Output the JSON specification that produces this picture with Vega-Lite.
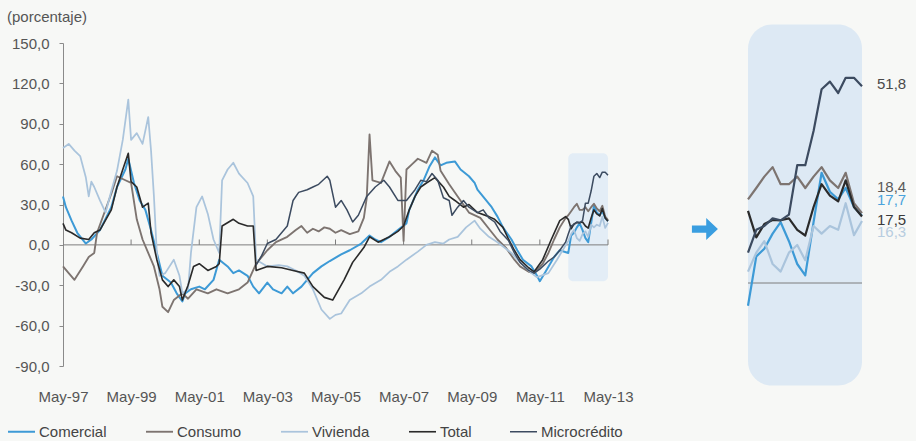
{
"$schema":"https://vega.github.io/schema/vega-lite/v6.json",
"width":853,"height":323,
"autosize":{"type":"none"},
"padding":{"left":63,"top":43,"right":0,"bottom":75},
"background":"#f7f8f6",
"config":{"view":{"stroke":null},"font":"Liberation Sans",
"locale":{"number":{"decimal":",","thousands":".","grouping":[3],"currency":["$",""],"minus":"-"}}},
"title":{"text":"(porcentaje)","anchor":"start","frame":"group","dx":-56,"offset":0,"fontSize":15,"fontWeight":"normal","color":"#555555","font":"Liberation Sans"},
"data":{"values":[
{"s":"Comercial","d":"1997-05","v":36},{"s":"Comercial","d":"1997-06","v":28},{"s":"Comercial","d":"1997-08","v":18},{"s":"Comercial","d":"1997-10","v":9},{"s":"Comercial","d":"1998-01","v":1},{"s":"Comercial","d":"1998-03","v":4},{"s":"Comercial","d":"1998-06","v":11},{"s":"Comercial","d":"1998-10","v":28},{"s":"Comercial","d":"1998-12","v":43},{"s":"Comercial","d":"1999-03","v":56},{"s":"Comercial","d":"1999-04","v":64},{"s":"Comercial","d":"1999-06","v":46},{"s":"Comercial","d":"1999-08","v":33},{"s":"Comercial","d":"1999-10","v":26},{"s":"Comercial","d":"1999-12","v":11},{"s":"Comercial","d":"2000-02","v":-6},{"s":"Comercial","d":"2000-04","v":-23},{"s":"Comercial","d":"2000-07","v":-28},{"s":"Comercial","d":"2000-09","v":-36},{"s":"Comercial","d":"2000-11","v":-42},{"s":"Comercial","d":"2000-12","v":-36},{"s":"Comercial","d":"2001-02","v":-33},{"s":"Comercial","d":"2001-05","v":-31},{"s":"Comercial","d":"2001-07","v":-33},{"s":"Comercial","d":"2001-10","v":-26},{"s":"Comercial","d":"2001-12","v":-11},{"s":"Comercial","d":"2002-03","v":-16},{"s":"Comercial","d":"2002-05","v":-21},{"s":"Comercial","d":"2002-07","v":-19},{"s":"Comercial","d":"2002-10","v":-23},{"s":"Comercial","d":"2002-12","v":-31},{"s":"Comercial","d":"2003-02","v":-36},{"s":"Comercial","d":"2003-05","v":-28},{"s":"Comercial","d":"2003-07","v":-33},{"s":"Comercial","d":"2003-10","v":-36},{"s":"Comercial","d":"2003-12","v":-31},{"s":"Comercial","d":"2004-02","v":-36},{"s":"Comercial","d":"2004-05","v":-31},{"s":"Comercial","d":"2004-07","v":-26},{"s":"Comercial","d":"2004-09","v":-21},{"s":"Comercial","d":"2004-12","v":-16},{"s":"Comercial","d":"2005-03","v":-12},{"s":"Comercial","d":"2005-07","v":-7},{"s":"Comercial","d":"2005-10","v":-4},{"s":"Comercial","d":"2006-02","v":1},{"s":"Comercial","d":"2006-05","v":7},{"s":"Comercial","d":"2006-07","v":4},{"s":"Comercial","d":"2006-09","v":2},{"s":"Comercial","d":"2006-12","v":6},{"s":"Comercial","d":"2007-03","v":11},{"s":"Comercial","d":"2007-06","v":16},{"s":"Comercial","d":"2007-07","v":26},{"s":"Comercial","d":"2007-10","v":41},{"s":"Comercial","d":"2007-12","v":48},{"s":"Comercial","d":"2008-02","v":58},{"s":"Comercial","d":"2008-04","v":65},{"s":"Comercial","d":"2008-06","v":59},{"s":"Comercial","d":"2008-08","v":61},{"s":"Comercial","d":"2008-11","v":62},{"s":"Comercial","d":"2009-01","v":56},{"s":"Comercial","d":"2009-04","v":51},{"s":"Comercial","d":"2009-06","v":46},{"s":"Comercial","d":"2009-07","v":41},{"s":"Comercial","d":"2009-12","v":28},{"s":"Comercial","d":"2010-02","v":21},{"s":"Comercial","d":"2010-04","v":13},{"s":"Comercial","d":"2010-07","v":4},{"s":"Comercial","d":"2010-09","v":-4},{"s":"Comercial","d":"2010-11","v":-11},{"s":"Comercial","d":"2011-02","v":-16},{"s":"Comercial","d":"2011-04","v":-23},{"s":"Comercial","d":"2011-05","v":-27},{"s":"Comercial","d":"2011-07","v":-20},{"s":"Comercial","d":"2011-10","v":-9},{"s":"Comercial","d":"2011-12","v":-4},{"s":"Comercial","d":"2012-03","v":-6},{"s":"Comercial","d":"2012-04","v":7},{"s":"Comercial","d":"2012-05","v":9},{"s":"Comercial","d":"2012-06","v":13},{"s":"Comercial","d":"2012-07","v":16},{"s":"Comercial","d":"2012-08","v":11},{"s":"Comercial","d":"2012-09","v":5},{"s":"Comercial","d":"2012-10","v":2},{"s":"Comercial","d":"2012-11","v":16},{"s":"Comercial","d":"2012-12","v":29},{"s":"Comercial","d":"2013-01","v":24},{"s":"Comercial","d":"2013-02","v":22},{"s":"Comercial","d":"2013-03","v":25},{"s":"Comercial","d":"2013-04","v":20},{"s":"Comercial","d":"2013-05","v":17.7},
{"s":"Consumo","d":"1997-05","v":-16},{"s":"Consumo","d":"1997-07","v":-21},{"s":"Consumo","d":"1997-09","v":-26},{"s":"Consumo","d":"1997-12","v":-16},{"s":"Consumo","d":"1998-02","v":-9},{"s":"Consumo","d":"1998-04","v":-6},{"s":"Consumo","d":"1998-05","v":9},{"s":"Consumo","d":"1998-10","v":38},{"s":"Consumo","d":"1998-12","v":51},{"s":"Consumo","d":"1999-03","v":48},{"s":"Consumo","d":"1999-05","v":46},{"s":"Consumo","d":"1999-07","v":19},{"s":"Consumo","d":"1999-09","v":4},{"s":"Consumo","d":"2000-01","v":-16},{"s":"Consumo","d":"2000-03","v":-33},{"s":"Consumo","d":"2000-04","v":-46},{"s":"Consumo","d":"2000-06","v":-50},{"s":"Consumo","d":"2000-08","v":-41},{"s":"Consumo","d":"2000-11","v":-36},{"s":"Consumo","d":"2001-01","v":-40},{"s":"Consumo","d":"2001-04","v":-33},{"s":"Consumo","d":"2001-08","v":-36},{"s":"Consumo","d":"2001-11","v":-33},{"s":"Consumo","d":"2002-03","v":-36},{"s":"Consumo","d":"2002-07","v":-33},{"s":"Consumo","d":"2002-10","v":-28},{"s":"Consumo","d":"2003-01","v":-14},{"s":"Consumo","d":"2003-05","v":-4},{"s":"Consumo","d":"2003-08","v":2},{"s":"Consumo","d":"2003-12","v":6},{"s":"Consumo","d":"2004-03","v":11},{"s":"Consumo","d":"2004-05","v":14},{"s":"Consumo","d":"2004-07","v":9},{"s":"Consumo","d":"2004-09","v":12},{"s":"Consumo","d":"2004-11","v":10},{"s":"Consumo","d":"2005-01","v":13},{"s":"Consumo","d":"2005-03","v":12},{"s":"Consumo","d":"2005-05","v":9},{"s":"Consumo","d":"2005-07","v":11},{"s":"Consumo","d":"2005-10","v":8},{"s":"Consumo","d":"2006-01","v":10},{"s":"Consumo","d":"2006-03","v":20},{"s":"Consumo","d":"2006-04","v":35},{"s":"Consumo","d":"2006-05","v":82},{"s":"Consumo","d":"2006-06","v":48},{"s":"Consumo","d":"2006-09","v":46},{"s":"Consumo","d":"2006-12","v":62},{"s":"Consumo","d":"2007-02","v":55},{"s":"Consumo","d":"2007-04","v":50},{"s":"Consumo","d":"2007-05","v":3},{"s":"Consumo","d":"2007-06","v":56},{"s":"Consumo","d":"2007-08","v":60},{"s":"Consumo","d":"2007-10","v":64},{"s":"Consumo","d":"2008-01","v":61},{"s":"Consumo","d":"2008-03","v":70},{"s":"Consumo","d":"2008-05","v":67},{"s":"Consumo","d":"2008-06","v":55},{"s":"Consumo","d":"2008-09","v":45},{"s":"Consumo","d":"2008-12","v":36},{"s":"Consumo","d":"2009-04","v":24},{"s":"Consumo","d":"2009-08","v":20},{"s":"Consumo","d":"2009-11","v":12},{"s":"Consumo","d":"2010-02","v":4},{"s":"Consumo","d":"2010-05","v":-2},{"s":"Consumo","d":"2010-08","v":-11},{"s":"Consumo","d":"2010-10","v":-16},{"s":"Consumo","d":"2011-01","v":-20},{"s":"Consumo","d":"2011-03","v":-21},{"s":"Consumo","d":"2011-06","v":-14},{"s":"Consumo","d":"2011-08","v":-6},{"s":"Consumo","d":"2011-10","v":4},{"s":"Consumo","d":"2011-12","v":13},{"s":"Consumo","d":"2012-02","v":20},{"s":"Consumo","d":"2012-03","v":22},{"s":"Consumo","d":"2012-04","v":25},{"s":"Consumo","d":"2012-05","v":28},{"s":"Consumo","d":"2012-06","v":30.5},{"s":"Consumo","d":"2012-07","v":26},{"s":"Consumo","d":"2012-08","v":26},{"s":"Consumo","d":"2012-09","v":28},{"s":"Consumo","d":"2012-10","v":25},{"s":"Consumo","d":"2012-11","v":28},{"s":"Consumo","d":"2012-12","v":30.5},{"s":"Consumo","d":"2013-01","v":27},{"s":"Consumo","d":"2013-02","v":25},{"s":"Consumo","d":"2013-03","v":29},{"s":"Consumo","d":"2013-04","v":21},{"s":"Consumo","d":"2013-05","v":18.4},
{"s":"Vivienda","d":"1997-05","v":72},{"s":"Vivienda","d":"1997-07","v":75},{"s":"Vivienda","d":"1997-09","v":70},{"s":"Vivienda","d":"1997-11","v":66},{"s":"Vivienda","d":"1998-01","v":50},{"s":"Vivienda","d":"1998-02","v":36},{"s":"Vivienda","d":"1998-03","v":47},{"s":"Vivienda","d":"1998-04","v":43},{"s":"Vivienda","d":"1998-06","v":33},{"s":"Vivienda","d":"1998-08","v":24},{"s":"Vivienda","d":"1998-10","v":40},{"s":"Vivienda","d":"1998-12","v":55},{"s":"Vivienda","d":"1999-02","v":78},{"s":"Vivienda","d":"1999-04","v":108},{"s":"Vivienda","d":"1999-05","v":78},{"s":"Vivienda","d":"1999-07","v":83},{"s":"Vivienda","d":"1999-09","v":75},{"s":"Vivienda","d":"1999-11","v":95},{"s":"Vivienda","d":"1999-12","v":70},{"s":"Vivienda","d":"2000-01","v":36},{"s":"Vivienda","d":"2000-02","v":-6},{"s":"Vivienda","d":"2000-03","v":-23},{"s":"Vivienda","d":"2000-05","v":-21},{"s":"Vivienda","d":"2000-08","v":-11},{"s":"Vivienda","d":"2000-10","v":-23},{"s":"Vivienda","d":"2000-11","v":-36},{"s":"Vivienda","d":"2001-01","v":-33},{"s":"Vivienda","d":"2001-02","v":-6},{"s":"Vivienda","d":"2001-04","v":28},{"s":"Vivienda","d":"2001-06","v":36},{"s":"Vivienda","d":"2001-08","v":23},{"s":"Vivienda","d":"2001-10","v":4},{"s":"Vivienda","d":"2001-12","v":-6},{"s":"Vivienda","d":"2002-01","v":48},{"s":"Vivienda","d":"2002-03","v":56},{"s":"Vivienda","d":"2002-05","v":61},{"s":"Vivienda","d":"2002-07","v":53},{"s":"Vivienda","d":"2002-10","v":46},{"s":"Vivienda","d":"2002-12","v":36},{"s":"Vivienda","d":"2003-01","v":-11},{"s":"Vivienda","d":"2003-05","v":-16},{"s":"Vivienda","d":"2003-09","v":-15},{"s":"Vivienda","d":"2003-12","v":-16},{"s":"Vivienda","d":"2004-03","v":-19},{"s":"Vivienda","d":"2004-06","v":-23},{"s":"Vivienda","d":"2004-09","v":-33},{"s":"Vivienda","d":"2004-12","v":-48},{"s":"Vivienda","d":"2005-03","v":-55},{"s":"Vivienda","d":"2005-05","v":-52},{"s":"Vivienda","d":"2005-07","v":-51},{"s":"Vivienda","d":"2005-10","v":-41},{"s":"Vivienda","d":"2006-02","v":-36},{"s":"Vivienda","d":"2006-05","v":-31},{"s":"Vivienda","d":"2006-09","v":-26},{"s":"Vivienda","d":"2006-12","v":-20},{"s":"Vivienda","d":"2007-03","v":-16},{"s":"Vivienda","d":"2007-06","v":-11},{"s":"Vivienda","d":"2007-10","v":-5},{"s":"Vivienda","d":"2008-01","v":0},{"s":"Vivienda","d":"2008-04","v":2},{"s":"Vivienda","d":"2008-07","v":1},{"s":"Vivienda","d":"2008-09","v":4},{"s":"Vivienda","d":"2008-12","v":6},{"s":"Vivienda","d":"2009-03","v":13},{"s":"Vivienda","d":"2009-06","v":18},{"s":"Vivienda","d":"2009-08","v":12},{"s":"Vivienda","d":"2009-11","v":6},{"s":"Vivienda","d":"2010-02","v":2},{"s":"Vivienda","d":"2010-07","v":-6},{"s":"Vivienda","d":"2010-10","v":-13},{"s":"Vivienda","d":"2011-02","v":-21},{"s":"Vivienda","d":"2011-04","v":-24},{"s":"Vivienda","d":"2011-08","v":-21},{"s":"Vivienda","d":"2011-11","v":-11},{"s":"Vivienda","d":"2012-01","v":-4},{"s":"Vivienda","d":"2012-03","v":3},{"s":"Vivienda","d":"2012-04","v":8},{"s":"Vivienda","d":"2012-05","v":11},{"s":"Vivienda","d":"2012-06","v":5},{"s":"Vivienda","d":"2012-07","v":3},{"s":"Vivienda","d":"2012-08","v":8},{"s":"Vivienda","d":"2012-09","v":10},{"s":"Vivienda","d":"2012-10","v":6},{"s":"Vivienda","d":"2012-11","v":15},{"s":"Vivienda","d":"2012-12","v":13},{"s":"Vivienda","d":"2013-01","v":15},{"s":"Vivienda","d":"2013-02","v":14},{"s":"Vivienda","d":"2013-03","v":21},{"s":"Vivienda","d":"2013-04","v":12.6},{"s":"Vivienda","d":"2013-05","v":16.3},
{"s":"Total","d":"1997-05","v":16},{"s":"Total","d":"1997-06","v":11},{"s":"Total","d":"1997-08","v":9},{"s":"Total","d":"1997-11","v":5},{"s":"Total","d":"1998-02","v":4},{"s":"Total","d":"1998-04","v":9},{"s":"Total","d":"1998-06","v":11},{"s":"Total","d":"1998-10","v":26},{"s":"Total","d":"1998-12","v":43},{"s":"Total","d":"1999-02","v":56},{"s":"Total","d":"1999-04","v":68},{"s":"Total","d":"1999-05","v":47},{"s":"Total","d":"1999-07","v":43},{"s":"Total","d":"1999-09","v":28},{"s":"Total","d":"1999-11","v":31},{"s":"Total","d":"1999-12","v":9},{"s":"Total","d":"2000-02","v":-11},{"s":"Total","d":"2000-04","v":-26},{"s":"Total","d":"2000-06","v":-31},{"s":"Total","d":"2000-08","v":-26},{"s":"Total","d":"2000-10","v":-31},{"s":"Total","d":"2000-11","v":-41},{"s":"Total","d":"2001-01","v":-30},{"s":"Total","d":"2001-03","v":-16},{"s":"Total","d":"2001-05","v":-14},{"s":"Total","d":"2001-08","v":-19},{"s":"Total","d":"2001-11","v":-16},{"s":"Total","d":"2001-12","v":-14},{"s":"Total","d":"2002-01","v":14},{"s":"Total","d":"2002-05","v":19},{"s":"Total","d":"2002-07","v":16},{"s":"Total","d":"2002-10","v":14},{"s":"Total","d":"2002-12","v":14},{"s":"Total","d":"2003-01","v":-19},{"s":"Total","d":"2003-05","v":-16},{"s":"Total","d":"2003-10","v":-17},{"s":"Total","d":"2004-02","v":-19},{"s":"Total","d":"2004-06","v":-21},{"s":"Total","d":"2004-09","v":-31},{"s":"Total","d":"2005-01","v":-39},{"s":"Total","d":"2005-04","v":-41},{"s":"Total","d":"2005-08","v":-26},{"s":"Total","d":"2005-11","v":-13},{"s":"Total","d":"2006-03","v":-2},{"s":"Total","d":"2006-05","v":6},{"s":"Total","d":"2006-08","v":2},{"s":"Total","d":"2006-12","v":6},{"s":"Total","d":"2007-03","v":10},{"s":"Total","d":"2007-05","v":14},{"s":"Total","d":"2007-07","v":26},{"s":"Total","d":"2007-09","v":36},{"s":"Total","d":"2007-11","v":43},{"s":"Total","d":"2008-01","v":46},{"s":"Total","d":"2008-04","v":50},{"s":"Total","d":"2008-07","v":43},{"s":"Total","d":"2008-09","v":36},{"s":"Total","d":"2008-11","v":33},{"s":"Total","d":"2009-02","v":28},{"s":"Total","d":"2009-04","v":30},{"s":"Total","d":"2009-07","v":24},{"s":"Total","d":"2009-11","v":21},{"s":"Total","d":"2010-01","v":19},{"s":"Total","d":"2010-04","v":13},{"s":"Total","d":"2010-06","v":4},{"s":"Total","d":"2010-08","v":-4},{"s":"Total","d":"2010-10","v":-11},{"s":"Total","d":"2011-01","v":-17},{"s":"Total","d":"2011-03","v":-20},{"s":"Total","d":"2011-06","v":-11},{"s":"Total","d":"2011-09","v":4},{"s":"Total","d":"2011-12","v":18},{"s":"Total","d":"2012-02","v":21},{"s":"Total","d":"2012-03","v":19},{"s":"Total","d":"2012-04","v":12},{"s":"Total","d":"2012-05","v":15.5},{"s":"Total","d":"2012-06","v":16.6},{"s":"Total","d":"2012-07","v":16.5},{"s":"Total","d":"2012-08","v":17},{"s":"Total","d":"2012-09","v":14},{"s":"Total","d":"2012-10","v":12.5},{"s":"Total","d":"2012-11","v":20},{"s":"Total","d":"2012-12","v":26},{"s":"Total","d":"2013-01","v":23},{"s":"Total","d":"2013-02","v":21.5},{"s":"Total","d":"2013-03","v":27},{"s":"Total","d":"2013-04","v":20},{"s":"Total","d":"2013-05","v":17.5},
{"s":"Microcrédito","d":"2003-01","v":-15},{"s":"Microcrédito","d":"2003-03","v":-8},{"s":"Microcrédito","d":"2003-05","v":1},{"s":"Microcrédito","d":"2003-08","v":4},{"s":"Microcrédito","d":"2003-10","v":9},{"s":"Microcrédito","d":"2003-12","v":14},{"s":"Microcrédito","d":"2004-02","v":33},{"s":"Microcrédito","d":"2004-04","v":39},{"s":"Microcrédito","d":"2004-07","v":41},{"s":"Microcrédito","d":"2004-09","v":43},{"s":"Microcrédito","d":"2004-11","v":45},{"s":"Microcrédito","d":"2005-02","v":51},{"s":"Microcrédito","d":"2005-03","v":48},{"s":"Microcrédito","d":"2005-05","v":28},{"s":"Microcrédito","d":"2005-07","v":33},{"s":"Microcrédito","d":"2005-09","v":26},{"s":"Microcrédito","d":"2005-11","v":17},{"s":"Microcrédito","d":"2006-01","v":22},{"s":"Microcrédito","d":"2006-04","v":36},{"s":"Microcrédito","d":"2006-07","v":43},{"s":"Microcrédito","d":"2006-10","v":48},{"s":"Microcrédito","d":"2006-12","v":43},{"s":"Microcrédito","d":"2007-03","v":33},{"s":"Microcrédito","d":"2007-06","v":33},{"s":"Microcrédito","d":"2007-09","v":41},{"s":"Microcrédito","d":"2007-11","v":48},{"s":"Microcrédito","d":"2008-01","v":47},{"s":"Microcrédito","d":"2008-03","v":53},{"s":"Microcrédito","d":"2008-05","v":48},{"s":"Microcrédito","d":"2008-07","v":35},{"s":"Microcrédito","d":"2008-09","v":33},{"s":"Microcrédito","d":"2008-10","v":22},{"s":"Microcrédito","d":"2008-12","v":28},{"s":"Microcrédito","d":"2009-02","v":33},{"s":"Microcrédito","d":"2009-04","v":28},{"s":"Microcrédito","d":"2009-07","v":24},{"s":"Microcrédito","d":"2009-09","v":26},{"s":"Microcrédito","d":"2009-11","v":20},{"s":"Microcrédito","d":"2010-01","v":17},{"s":"Microcrédito","d":"2010-03","v":10},{"s":"Microcrédito","d":"2010-06","v":3},{"s":"Microcrédito","d":"2010-08","v":-6},{"s":"Microcrédito","d":"2010-10","v":-13},{"s":"Microcrédito","d":"2011-01","v":-19},{"s":"Microcrédito","d":"2011-03","v":-21},{"s":"Microcrédito","d":"2011-05","v":-18},{"s":"Microcrédito","d":"2011-08","v":-12},{"s":"Microcrédito","d":"2011-10","v":-9},{"s":"Microcrédito","d":"2011-12","v":-4},{"s":"Microcrédito","d":"2012-02","v":2},{"s":"Microcrédito","d":"2012-03","v":8},{"s":"Microcrédito","d":"2012-04","v":14},{"s":"Microcrédito","d":"2012-05","v":15},{"s":"Microcrédito","d":"2012-06","v":17},{"s":"Microcrédito","d":"2012-07","v":16.5},{"s":"Microcrédito","d":"2012-08","v":18},{"s":"Microcrédito","d":"2012-09","v":31},{"s":"Microcrédito","d":"2012-10","v":31},{"s":"Microcrédito","d":"2012-11","v":40},{"s":"Microcrédito","d":"2012-12","v":51},{"s":"Microcrédito","d":"2013-01","v":53},{"s":"Microcrédito","d":"2013-02","v":50},{"s":"Microcrédito","d":"2013-03","v":54},{"s":"Microcrédito","d":"2013-04","v":54},{"s":"Microcrédito","d":"2013-05","v":51.8}
]},
"layer":[
{"layer":[
 {"data":{"values":[{"d":"2012-03","d2":"2013-05","v":-27,"v2":68}]},
  "mark":{"type":"rect","fill":"#e3edf6","cornerRadius":5},
  "encoding":{"x":{"field":"d","type":"temporal","scale":{"type":"utc","domain":[{"year":1997,"month":5,"date":1,"utc":true},{"year":2013,"month":5,"date":1,"utc":true}],"range":[0,545]},
    "axis":{"title":null,"grid":false,"domain":false,"ticks":false,"tickSize":0,"labelPadding":23,"labelFlush":false,"labelOverlap":false,"labelFontSize":15,"labelColor":"#555555","labelFont":"Liberation Sans","values":[{"year":1997,"month":5,"date":1,"utc":true},{"year":1999,"month":5,"date":1,"utc":true},{"year":2001,"month":5,"date":1,"utc":true},{"year":2003,"month":5,"date":1,"utc":true},{"year":2005,"month":5,"date":1,"utc":true},{"year":2007,"month":5,"date":1,"utc":true},{"year":2009,"month":5,"date":1,"utc":true},{"year":2011,"month":5,"date":1,"utc":true},{"year":2013,"month":5,"date":1,"utc":true}],"labelExpr":"utcFormat(datum.value, '%b-%y')"}},
   "x2":{"field":"d2"},
   "y":{"field":"v","type":"quantitative","scale":{"domain":[-90,150],"range":[323,0],"nice":false,"zero":false},
    "axis":{"title":null,"grid":false,"values":[-90,-60,-30,0,30,60,90,120,150],"format":".1f","domainColor":"#8a8a8a","tickColor":"#8a8a8a","tickSize":4,"labelPadding":10,"labelFontSize":15,"labelColor":"#555555","labelFont":"Liberation Sans"}},
   "y2":{"field":"v2"}}},
 {"data":{"values":[{"d":"1997-05","d2":"2013-05","v":0}]},
  "mark":{"type":"rule","color":"#7d7d7d","strokeWidth":1},
  "encoding":{"x":{"field":"d","type":"temporal","scale":{"type":"utc","domain":[{"year":1997,"month":5,"date":1,"utc":true},{"year":2013,"month":5,"date":1,"utc":true}],"range":[0,545]},
    "axis":{"title":null,"grid":false,"domain":false,"ticks":false,"tickSize":0,"labelPadding":23,"labelFlush":false,"labelOverlap":false,"labelFontSize":15,"labelColor":"#555555","labelFont":"Liberation Sans","values":[{"year":1997,"month":5,"date":1,"utc":true},{"year":1999,"month":5,"date":1,"utc":true},{"year":2001,"month":5,"date":1,"utc":true},{"year":2003,"month":5,"date":1,"utc":true},{"year":2005,"month":5,"date":1,"utc":true},{"year":2007,"month":5,"date":1,"utc":true},{"year":2009,"month":5,"date":1,"utc":true},{"year":2011,"month":5,"date":1,"utc":true},{"year":2013,"month":5,"date":1,"utc":true}],"labelExpr":"utcFormat(datum.value, '%b-%y')"}},
   "x2":{"field":"d2"},
   "y":{"field":"v","type":"quantitative","scale":{"domain":[-90,150],"range":[323,0],"nice":false,"zero":false},
    "axis":{"title":null,"grid":false,"values":[-90,-60,-30,0,30,60,90,120,150],"format":".1f","domainColor":"#8a8a8a","tickColor":"#8a8a8a","tickSize":4,"labelPadding":10,"labelFontSize":15,"labelColor":"#555555","labelFont":"Liberation Sans"}}}},
 {"data":{"values":[{"d":"1999-05","v":0,"v2":4},{"d":"2001-05","v":0,"v2":4},{"d":"2003-05","v":0,"v2":4},{"d":"2005-05","v":0,"v2":4},{"d":"2007-05","v":0,"v2":4},{"d":"2009-05","v":0,"v2":4},{"d":"2011-05","v":0,"v2":4},{"d":"2013-05","v":0,"v2":4}]},
  "mark":{"type":"rule","color":"#7d7d7d","strokeWidth":1},
  "encoding":{"x":{"field":"d","type":"temporal","scale":{"type":"utc","domain":[{"year":1997,"month":5,"date":1,"utc":true},{"year":2013,"month":5,"date":1,"utc":true}],"range":[0,545]},
    "axis":{"title":null,"grid":false,"domain":false,"ticks":false,"tickSize":0,"labelPadding":23,"labelFlush":false,"labelOverlap":false,"labelFontSize":15,"labelColor":"#555555","labelFont":"Liberation Sans","values":[{"year":1997,"month":5,"date":1,"utc":true},{"year":1999,"month":5,"date":1,"utc":true},{"year":2001,"month":5,"date":1,"utc":true},{"year":2003,"month":5,"date":1,"utc":true},{"year":2005,"month":5,"date":1,"utc":true},{"year":2007,"month":5,"date":1,"utc":true},{"year":2009,"month":5,"date":1,"utc":true},{"year":2011,"month":5,"date":1,"utc":true},{"year":2013,"month":5,"date":1,"utc":true}],"labelExpr":"utcFormat(datum.value, '%b-%y')"}},
   "y":{"field":"v","type":"quantitative","scale":{"domain":[-90,150],"range":[323,0],"nice":false,"zero":false},
    "axis":{"title":null,"grid":false,"values":[-90,-60,-30,0,30,60,90,120,150],"format":".1f","domainColor":"#8a8a8a","tickColor":"#8a8a8a","tickSize":4,"labelPadding":10,"labelFontSize":15,"labelColor":"#555555","labelFont":"Liberation Sans"}},
   "y2":{"field":"v2"}}},
 {"mark":{"type":"line","strokeJoin":"round"},
  "encoding":{
   "x":{"field":"d","type":"temporal","scale":{"type":"utc","domain":[{"year":1997,"month":5,"date":1,"utc":true},{"year":2013,"month":5,"date":1,"utc":true}],"range":[0,545]},
    "axis":{"title":null,"grid":false,"domain":false,"ticks":false,"tickSize":0,"labelPadding":23,"labelFlush":false,"labelOverlap":false,"labelFontSize":15,"labelColor":"#555555","labelFont":"Liberation Sans","values":[{"year":1997,"month":5,"date":1,"utc":true},{"year":1999,"month":5,"date":1,"utc":true},{"year":2001,"month":5,"date":1,"utc":true},{"year":2003,"month":5,"date":1,"utc":true},{"year":2005,"month":5,"date":1,"utc":true},{"year":2007,"month":5,"date":1,"utc":true},{"year":2009,"month":5,"date":1,"utc":true},{"year":2011,"month":5,"date":1,"utc":true},{"year":2013,"month":5,"date":1,"utc":true}],"labelExpr":"utcFormat(datum.value, '%b-%y')"}},
   "y":{"field":"v","type":"quantitative","scale":{"domain":[-90,150],"range":[323,0],"nice":false,"zero":false},
    "axis":{"title":null,"grid":false,"values":[-90,-60,-30,0,30,60,90,120,150],"format":".1f","domainColor":"#8a8a8a","tickColor":"#8a8a8a","tickSize":4,"labelPadding":10,"labelFontSize":15,"labelColor":"#555555","labelFont":"Liberation Sans"}},
   "color":{"field":"s","type":"nominal","scale":{"domain":["Comercial","Consumo","Vivienda","Total","Microcrédito"],"range":["#3d9ad6","#7d7470","#aac4dc","#2a2a2a","#3c4b60"]},
    "legend":{"title":null,"orient":"none","legendX":-56,"legendY":374,"direction":"horizontal","symbolType":"stroke","symbolSize":729,"symbolStrokeWidth":2.5,"labelFontSize":15,"labelColor":"#444444","labelFont":"Liberation Sans","labelOffset":3,"columnPadding":35,"padding":0}},
   "strokeWidth":{"field":"s","type":"nominal","scale":{"domain":["Comercial","Consumo","Vivienda","Total","Microcrédito"],"range":[2,1.5,2,2.5,2]},"legend":null}}}
]},
{"layer":[
 {"data":{"values":[{"a":"2012-03","b":"2013-05","lo":-27,"hi":68}]},
  "mark":{"type":"rect","fill":"#dde9f4","cornerRadius":24},
  "encoding":{"x":{"field":"a","type":"temporal","axis":null,"scale":{"type":"utc","domain":[{"year":2012,"month":3,"date":1,"utc":true},{"year":2013,"month":5,"date":1,"utc":true}],"range":[685,799]}},"x2":{"field":"b"},
   "y":{"field":"lo","type":"quantitative","axis":null,"scale":{"domain":[0,50],"range":[240,50],"nice":false,"zero":false}},"y2":{"field":"hi"}}},
 {"data":{"values":[{"a":"2012-03","b":"2013-05","z":0}]},
  "mark":{"type":"rule","color":"#7d7d7d","strokeWidth":1},
  "encoding":{"x":{"field":"a","type":"temporal","axis":null},"x2":{"field":"b"},"y":{"field":"z","type":"quantitative","axis":null}}},
 {"transform":[{"filter":"time(datum.d) >= utc(2012,2,1)"}],
  "mark":{"type":"line","strokeJoin":"round","strokeWidth":2.2},
  "encoding":{"x":{"field":"d","type":"temporal","axis":null},"y":{"field":"v","type":"quantitative","axis":null},
   "color":{"field":"s","type":"nominal","scale":{"domain":["Comercial","Consumo","Vivienda","Total","Microcrédito"],"range":["#3d9ad6","#7d7470","#aac4dc","#2a2a2a","#3c4b60"]},
    "legend":{"title":null,"orient":"none","legendX":-56,"legendY":374,"direction":"horizontal","symbolType":"stroke","symbolSize":729,"symbolStrokeWidth":2.5,"labelFontSize":15,"labelColor":"#444444","labelFont":"Liberation Sans","labelOffset":3,"columnPadding":35,"padding":0}}}},
 {"transform":[{"filter":"datum.s == 'Microcrédito' && time(datum.d) == utc(2013,4,1)"}],
  "mark":{"type":"text","align":"left","baseline":"middle","dx":15,"dy":-2,"fontSize":15,"font":"Liberation Sans","color":"#4a4a4a"},
  "encoding":{"x":{"field":"d","type":"temporal","axis":null},"y":{"field":"v","type":"quantitative","axis":null},"text":{"field":"v","type":"quantitative","format":".1f"}}},
 {"transform":[{"filter":"datum.s == 'Consumo' && time(datum.d) == utc(2013,4,1)"}],
  "mark":{"type":"text","align":"left","baseline":"middle","dx":15,"dy":-26,"fontSize":15,"font":"Liberation Sans","color":"#5a5a5a"},
  "encoding":{"x":{"field":"d","type":"temporal","axis":null},"y":{"field":"v","type":"quantitative","axis":null},"text":{"field":"v","type":"quantitative","format":".1f"}}},
 {"transform":[{"filter":"datum.s == 'Comercial' && time(datum.d) == utc(2013,4,1)"}],
  "mark":{"type":"text","align":"left","baseline":"middle","dx":15,"dy":-16,"fontSize":15,"font":"Liberation Sans","color":"#4aa3dc"},
  "encoding":{"x":{"field":"d","type":"temporal","axis":null},"y":{"field":"v","type":"quantitative","axis":null},"text":{"field":"v","type":"quantitative","format":".1f"}}},
 {"transform":[{"filter":"datum.s == 'Total' && time(datum.d) == utc(2013,4,1)"}],
  "mark":{"type":"text","align":"left","baseline":"middle","dx":15,"dy":3,"fontSize":15,"font":"Liberation Sans","color":"#3a3a3a"},
  "encoding":{"x":{"field":"d","type":"temporal","axis":null},"y":{"field":"v","type":"quantitative","axis":null},"text":{"field":"v","type":"quantitative","format":".1f"}}},
 {"transform":[{"filter":"datum.s == 'Vivienda' && time(datum.d) == utc(2013,4,1)"}],
  "mark":{"type":"text","align":"left","baseline":"middle","dx":15,"dy":11,"fontSize":15,"font":"Liberation Sans","color":"#b8cde0"},
  "encoding":{"x":{"field":"d","type":"temporal","axis":null},"y":{"field":"v","type":"quantitative","axis":null},"text":{"field":"v","type":"quantitative","format":".1f"}}},
 {"data":{"values":[{"d":"2011-09-22","v":14.2}]},
  "mark":{"type":"point","filled":true,"opacity":1,"color":"#3a9ee0","size":676,"shape":"M-1,-0.28L0.1,-0.28L0.1,-0.85L1,0L0.1,0.85L0.1,0.28L-1,0.28Z"},
  "encoding":{"x":{"field":"d","type":"temporal","axis":null},"y":{"field":"v","type":"quantitative","axis":null}}}
]}
],
"resolve":{"scale":{"x":"independent","y":"independent"}}
}
